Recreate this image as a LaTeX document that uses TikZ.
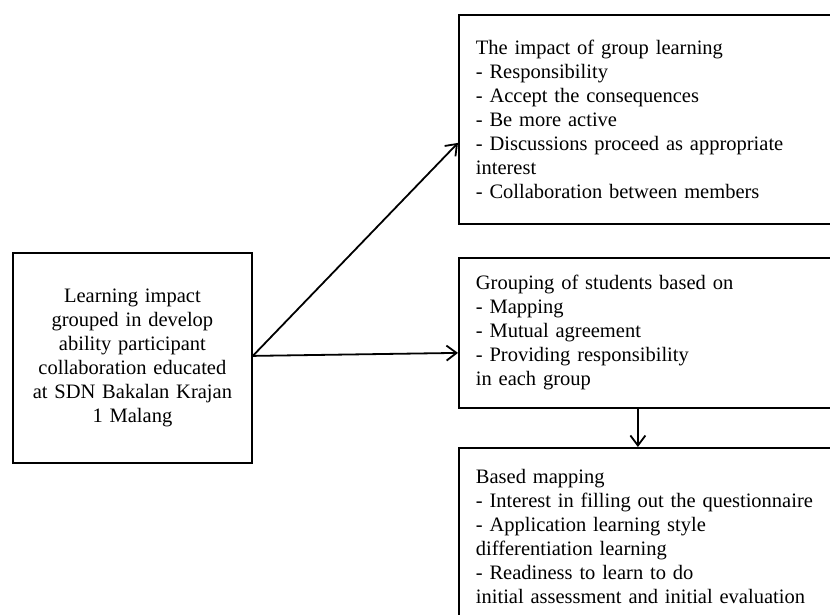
\documentclass[tikz,border=0pt]{standalone}
\usepackage{fontspec}
\setmainfont{Liberation Serif}
\usetikzlibrary{arrows.meta,positioning}

\begin{document}
\begin{tikzpicture}[x=1pt, y=-1pt,
    font=\fontsize{20.5}{24}\selectfont,
    box/.style={draw, line width=1.8pt, anchor=north west, inner sep=0pt},
    listbox/.style={box, minimum width=380pt, text width=346pt, align=left, inner xsep=17pt},
    link/.style={-{Straight Barb[length=10pt, width=15pt]}, line width=1.8pt}]
    \useasboundingbox (0,0) rectangle (830,615);
    \clip (0,0) rectangle (830,615);

    % --- the study on the left ---
    \node[box, minimum width=239pt, minimum height=210pt, text width=220pt, align=center]
      (study) at (12,252) {Learning impact\\ grouped in develop\\ ability participant\\
        collaboration educated\\ at SDN Bakalan Krajan\\ 1 Malang};

    % --- the three boxes on the right (they run past the page edge) ---
    \node[listbox, minimum height=209pt] (impact) at (458,14)
      {The impact of group learning\\ - Responsibility\\ - Accept the consequences\\
       - Be more active\\ - Discussions proceed as appropriate\\ interest\\
       - Collaboration between members};
    \node[listbox, minimum height=150pt] (grouping) at (458,257)
      {Grouping of students based on\\ - Mapping\\ - Mutual agreement\\
       - Providing responsibility\\ in each group};
    \node[listbox, minimum height=178pt] (mapping) at (458,447)
      {Based mapping\\ - Interest in filling out the questionnaire\\
       - Application learning style\\ differentiation learning\\
       - Readiness to learn to do\\ initial assessment and initial evaluation};

    % arrows
    \draw[link] ([yshift=2pt]study.east) -- ([yshift=-23.5pt]impact.west);
    \draw[link] ([yshift=2pt]study.east) -- ([yshift=-20pt]grouping.west);
    \draw[link] ([xshift=-11pt]grouping.south) -- ([xshift=-11pt]mapping.north);
\end{tikzpicture}
\end{document}
